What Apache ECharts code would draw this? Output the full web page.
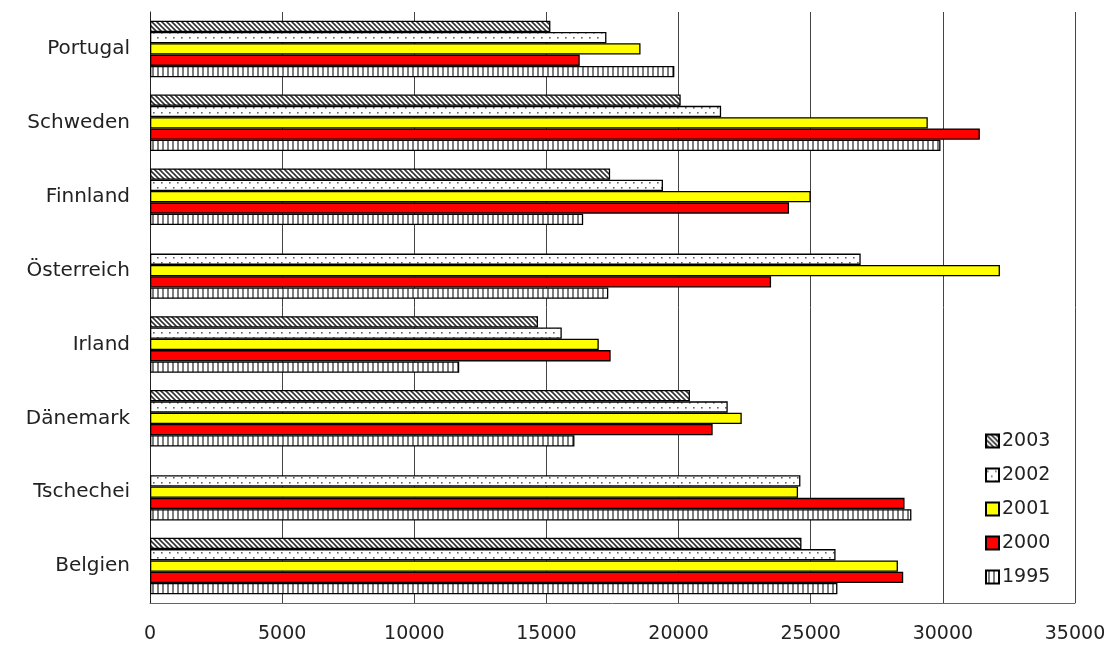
<!DOCTYPE html>
<html>
<head>
<meta charset="utf-8">
<title>Länder 1995–2003</title>
<script src="https://cdn.jsdelivr.net/npm/echarts@6/dist/echarts.min.js"></script>
<style>
  html, body { margin: 0; padding: 0; background: #fff; }
  #chart { width: 1109px; height: 649px; }
</style>
</head>
<body>
<div id="chart"></div>
<script>
// Categories, bottom to top on the y axis
const countries = ['Belgien', 'Tschechei', 'Dänemark', 'Irland', 'Österreich', 'Finnland', 'Schweden', 'Portugal'];

// Values per year (same order as countries)
const v2003 = [24650, null, 20430, 14680, null, 17410, 20080, 15150];
const v2002 = [25940, 24610, 21860, 15580, 26890, 19410, 21610, 17270];
const v2001 = [28300, 24520, 22390, 16980, 32160, 25000, 29430, 18560];
const v2000 = [28500, 28550, 21290, 17430, 23500, 24180, 31400, 16260];
const v1995 = [26010, 28810, 16060, 11700, 17340, 16390, 29910, 19840];

const years = ['2003', '2002', '2001', '2000', '1995'];
const xTicks = [0, 5000, 10000, 15000, 20000, 25000, 30000, 35000];

// Fill patterns drawn on small canvases
function makeCanvas(w, h, draw) {
  const c = document.createElement('canvas');
  c.width = w; c.height = h;
  const ctx = c.getContext('2d');
  ctx.fillStyle = '#ffffff';
  ctx.fillRect(0, 0, w, h);
  draw(ctx);
  return { image: c, repeat: 'repeat' };
}

// diagonal hatch "\\\"
const hatchFill = makeCanvas(5, 5, ctx => {
  ctx.strokeStyle = '#333333';
  ctx.lineWidth = 1.6;
  ctx.beginPath();
  ctx.moveTo(-1, -1); ctx.lineTo(6, 6);
  ctx.moveTo(-1, 4); ctx.lineTo(1, 6);
  ctx.moveTo(4, -1); ctx.lineTo(6, 1);
  ctx.stroke();
});

// sparse staggered dots
const dotFill = makeCanvas(8, 10, ctx => {
  ctx.fillStyle = '#666666';
  ctx.fillRect(1, 2, 1.6, 1.6);
  ctx.fillRect(5, 7, 1.6, 1.6);
});

// vertical stripes
const stripeFill = makeCanvas(5, 4, ctx => {
  ctx.fillStyle = '#b0b0b0';
  ctx.fillRect(2, 0, 2, 4);
  ctx.fillStyle = '#4a4a4a';
  ctx.fillRect(2.5, 0, 1, 4);
});

const fills = {
  '2003': hatchFill,
  '2002': dotFill,
  '2001': '#ffff00',
  '2000': '#ff0000',
  '1995': stripeFill
};
const values = { '2003': v2003, '2002': v2002, '2001': v2001, '2000': v2000, '1995': v1995 };

const FONT = 'DejaVu Sans';

const chart = echarts.init(document.getElementById('chart'), null, { renderer: 'canvas' });

chart.setOption({
  backgroundColor: '#ffffff',
  animation: false,
  grid: { left: 150, right: 34, top: 12, bottom: 46, containLabel: false },
  legend: {
    data: years,
    orient: 'vertical',
    left: 980,
    top: 426,
    itemWidth: 13,
    itemHeight: 13,
    itemGap: 14,
    icon: 'rect',
    textStyle: { fontFamily: FONT, fontSize: 19, color: '#222', padding: [0, 0, 0, -2], lineHeight: 20 }
  },
  xAxis: {
    type: 'value',
    min: 0,
    max: 35000,
    interval: 5000,
    axisLine: { show: true, lineStyle: { color: '#666', width: 1 } },
    axisTick: { show: false },
    splitLine: { show: true, lineStyle: { color: '#444', width: 1 } },
    axisLabel: {
      margin: 22,
      fontFamily: FONT,
      fontSize: 19,
      color: '#222',
      formatter: v => xTicks.includes(v) ? String(v) : ''
    }
  },
  yAxis: {
    type: 'category',
    data: countries,
    axisLine: { show: true, lineStyle: { color: '#222', width: 1 } },
    axisTick: { show: false },
    splitLine: { show: false },
    axisLabel: { margin: 20, fontFamily: FONT, fontSize: 20, color: '#222' }
  },
  series: years.map(y => ({
    name: y,
    type: 'bar',
    data: values[y],
    barWidth: 11.3,
    barGap: '0%',
    itemStyle: { color: fills[y], borderColor: '#000', borderWidth: 1.3 },
    emphasis: { disabled: true }
  }))
});
</script>
</body>
</html>
